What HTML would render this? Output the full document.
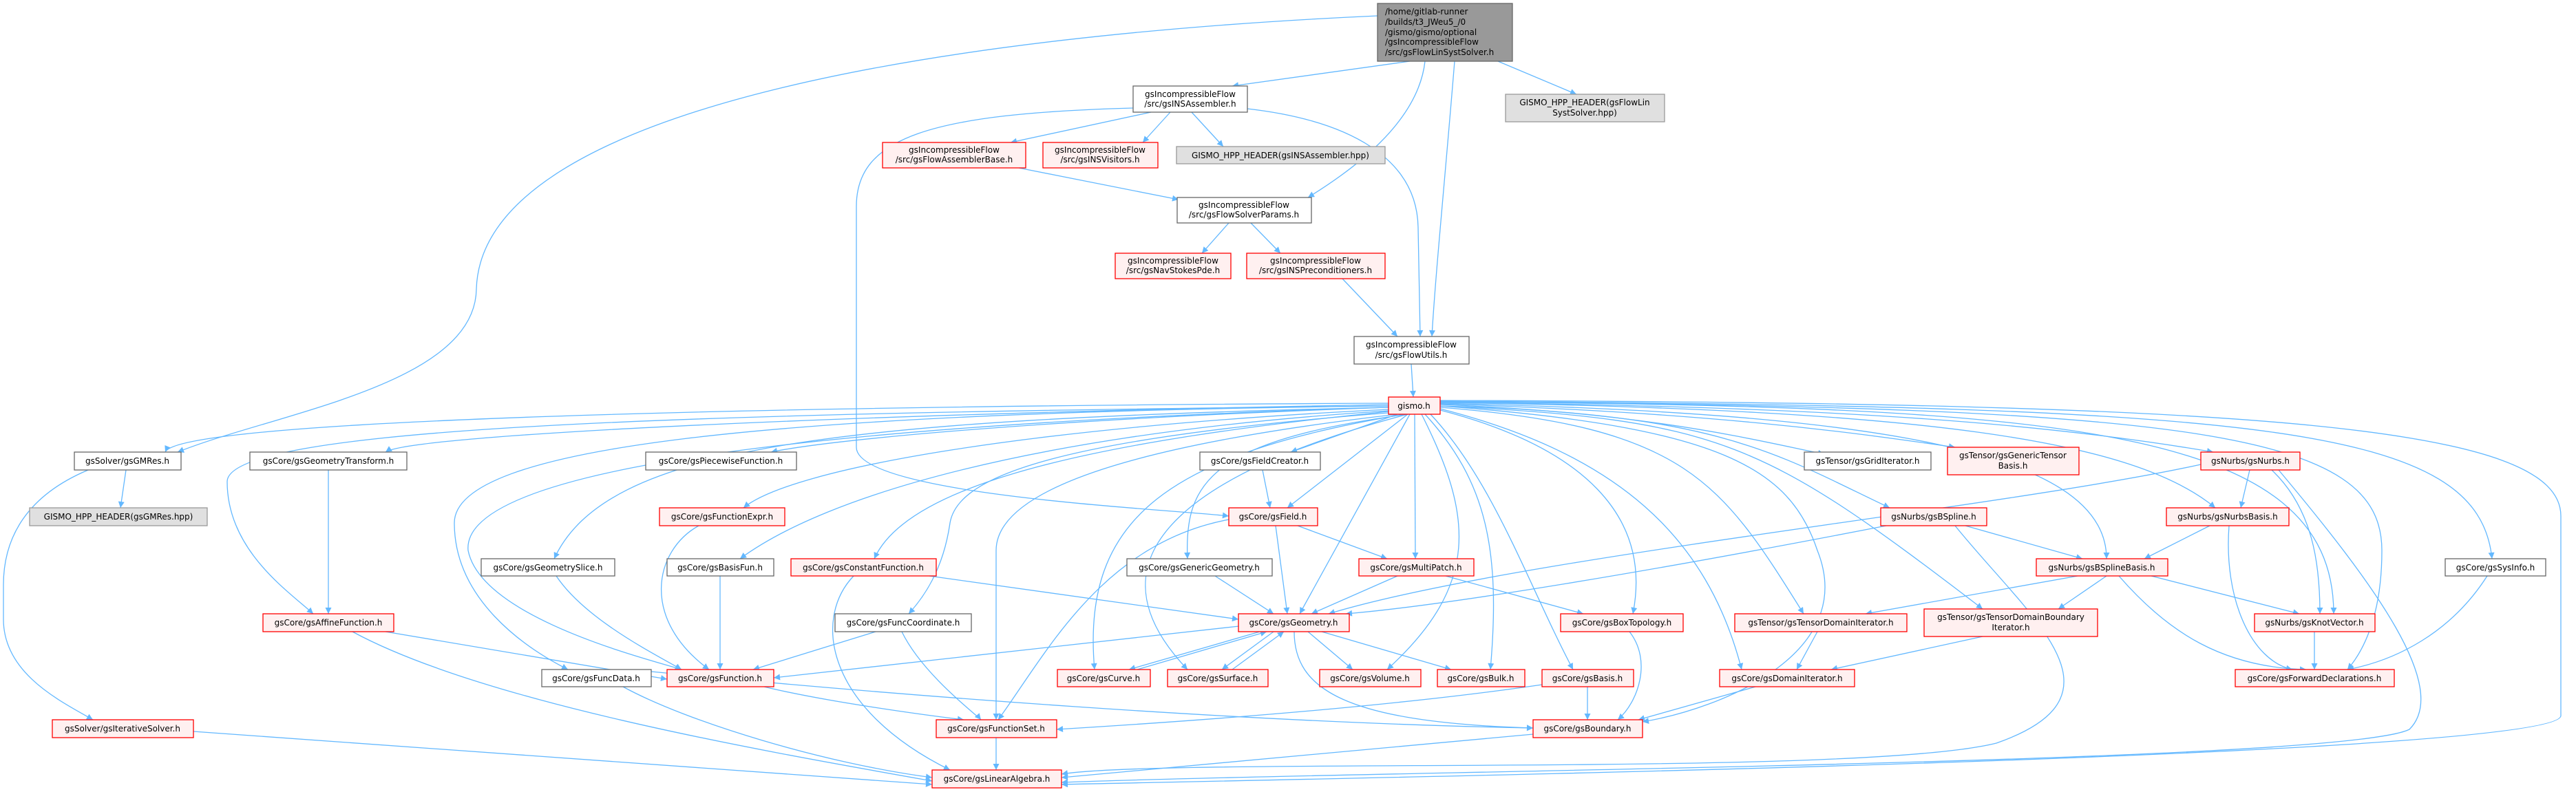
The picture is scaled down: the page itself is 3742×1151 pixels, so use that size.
<!DOCTYPE html>
<html><head><meta charset="utf-8"><style>
html,body{margin:0;padding:0;background:#fff;}
svg{display:block;}
text{font-family:"DejaVu Sans","Liberation Sans",sans-serif;font-size:12px;fill:#000;}
.r{fill:#fff0f0;stroke:#ff0000;stroke-width:1.3}
.w{fill:#fff;stroke:#666;stroke-width:1.3}
.g{fill:#e0e0e0;stroke:#999;stroke-width:1.3}
.t{fill:#999;stroke:#666;stroke-width:1.3}
path.e{fill:none;stroke:#63b8ff;stroke-width:1.3;marker-end:url(#a)}
</style></head><body>
<svg width="3742" height="1151" viewBox="0 0 3742 1151" xmlns="http://www.w3.org/2000/svg">
<defs><marker id="a" viewBox="0 0 10 10" refX="10" refY="5" markerWidth="11" markerHeight="9" markerUnits="userSpaceOnUse" orient="auto"><path d="M0,0 L10,5 L0,10z" fill="#63b8ff"/></marker></defs>
<g>
<path class="e" d="M2001,23 C1400,50 700,150 692,420 C690,560 400,600 258,657"/>
<path class="e" d="M2048,89 L1790,125"/>
<path class="e" d="M2070,89 C2060,180 1960,250 1900,287"/>
<path class="e" d="M2113,89 C2100,250 2085,400 2080,489"/>
<path class="e" d="M2176,89 L2290,137"/>
<path class="e" d="M1672,163 L1468,207"/>
<path class="e" d="M1700,163 L1660,207"/>
<path class="e" d="M1731,163 L1777,213"/>
<path class="e" d="M1646,157 C1350,165 1244,200 1244,300 L1244,650 C1244,720 1700,740 1785,750"/>
<path class="e" d="M1812,158 C1960,175 2058,230 2060,330 L2063,489"/>
<path class="e" d="M1480,244 L1712,290"/>
<path class="e" d="M1785,324 L1746,368"/>
<path class="e" d="M1817,324 L1860,368"/>
<path class="e" d="M1950,405 L2030,489"/>
<path class="e" d="M2050,529 L2053,577"/>

<path class="e" d="M2017,586 C1100,590 260,610 240,657"/>
<path class="e" d="M2017,588 C1300,600 600,630 560,657"/>
<path class="e" d="M2017,592 C1500,610 1200,640 1120,657"/>
<path class="e" d="M2017,590 C1000,600 330,620 330,700 C330,800 420,860 455,892"/>
<path class="e" d="M2017,592 C1200,610 880,650 805,812"/>
<path class="e" d="M2017,590 C1100,600 660,650 660,760 C660,870 760,940 825,973"/>
<path class="e" d="M2017,592 C1100,620 670,690 680,800 C700,900 950,960 990,973"/>
<path class="e" d="M2017,595 C1500,620 1150,680 1080,738"/>
<path class="e" d="M2017,597 C1500,630 1200,720 1075,812"/>
<path class="e" d="M2017,598 C1600,640 1320,700 1270,812"/>
<path class="e" d="M2017,600 C1500,640 1390,700 1380,760 C1370,830 1340,870 1320,892"/>
<path class="e" d="M2030,602 C1700,640 1447,700 1447,800 L1447,1046"/>
<path class="e" d="M2040,602 C1700,660 1570,750 1590,973"/>
<path class="e" d="M2045,602 C1750,680 1560,800 1725,973"/>
<path class="e" d="M2045,602 L1870,738"/>
<path class="e" d="M2030,602 L1875,657"/>
<path class="e" d="M2045,602 C1760,640 1720,700 1725,812"/>
<path class="e" d="M2048,602 L1888,892"/>
<path class="e" d="M2055,602 L2056,812"/>
<path class="e" d="M2065,602 C2140,750 2150,850 2015,973"/>
<path class="e" d="M2070,602 C2160,700 2180,800 2165,973"/>
<path class="e" d="M2078,602 C2170,700 2220,850 2285,973"/>
<path class="e" d="M2092,596 C2300,650 2400,750 2372,892"/>
<path class="e" d="M2092,594 C2350,660 2480,780 2530,973"/>
<path class="e" d="M2092,590 C2500,620 2600,680 2640,800 C2700,950 2500,1030 2386,1049"/>
<path class="e" d="M2092,592 C2450,620 2500,700 2620,892"/>
<path class="e" d="M2092,590 C2500,610 2560,640 2880,885"/>
<path class="e" d="M2092,590 C2500,600 2580,660 2745,738"/>
<path class="e" d="M2092,588 C2400,600 2550,640 2650,660"/>
<path class="e" d="M2092,587 C2500,600 2700,630 2840,650"/>
<path class="e" d="M2092,586 C2700,600 3060,650 3060,812"/>
<path class="e" d="M2092,585 C2700,590 3000,620 3215,657"/>
<path class="e" d="M2092,585 C2800,595 3100,640 3218,738"/>
<path class="e" d="M2092,584 C3000,590 3390,620 3390,892"/>
<path class="e" d="M2092,584 C3200,590 3460,630 3460,800 C3460,900 3430,950 3410,973"/>
<path class="e" d="M2092,583 C3300,590 3600,620 3620,812"/>
<path class="e" d="M2092,582 C3300,585 3720,620 3720,750 L3720,1040 C3720,1100 2000,1130 1542,1140"/>

<path class="e" d="M183,683 L175,738"/>
<path class="e" d="M128,683 C40,720 5,780 5,850 L5,900 C5,980 90,1020 135,1046"/>
<path class="e" d="M477,683 L477,892"/>
<path class="e" d="M1015,764 C950,800 930,900 1030,973"/>
<path class="e" d="M808,837 C850,900 950,950 990,973"/>
<path class="e" d="M1046,837 L1046,973"/>
<path class="e" d="M1350,837 L1799,900"/>
<path class="e" d="M1240,837 C1180,900 1200,1030 1380,1119"/>
<path class="e" d="M560,918 L969,987"/>
<path class="e" d="M512,918 C700,1020 1100,1090 1354,1135"/>
<path class="e" d="M1272,918 L1094,973"/>
<path class="e" d="M1310,918 C1340,980 1420,1040 1425,1046"/>
<path class="e" d="M946,976 C1300,1010 1800,1050 2227,1058"/>
<path class="e" d="M905,998 C1000,1050 1200,1110 1354,1130"/>
<path class="e" d="M1110,998 C1200,1020 1350,1040 1400,1046"/>
<path class="e" d="M281,1063 L1354,1140"/>
<path class="e" d="M1834,683 L1845,738"/>
<path class="e" d="M1853,764 L1870,892"/>
<path class="e" d="M1885,764 L2015,812"/>
<path class="e" d="M1785,755 C1600,790 1520,950 1450,1046"/>
<path class="e" d="M1765,837 L1850,892"/>
<path class="e" d="M2030,837 L1905,892"/>
<path class="e" d="M2100,837 L2300,892"/>
<path class="e" d="M1800,910 L1124,985"/>
<path class="e" d="M1830,918 L1640,973"/>
<path class="e" d="M1850,918 L1775,973"/>
<path class="e" d="M1900,918 L1965,973"/>
<path class="e" d="M1920,918 L2108,973"/>
<path class="e" d="M1880,918 C1880,1000 1950,1050 2227,1058"/>
<path class="e" d="M1652,973 L1840,918"/>
<path class="e" d="M1790,973 L1865,918"/>
<path class="e" d="M2240,995 C2000,1030 1700,1050 1535,1060"/>
<path class="e" d="M2306,998 L2306,1046"/>
<path class="e" d="M2367,918 C2400,960 2380,1020 2350,1046"/>
<path class="e" d="M2550,998 L2380,1046"/>
<path class="e" d="M2227,1067 L1542,1130"/>
<path class="e" d="M1447,1072 L1447,1119"/>
<path class="e" d="M3197,675 C2900,740 2200,810 1930,892"/>
<path class="e" d="M3268,683 L3255,738"/>
<path class="e" d="M3300,683 C3360,740 3370,820 3370,892"/>
<path class="e" d="M3310,683 C3450,850 3560,1000 3500,1060 C3400,1110 2000,1120 1542,1137"/>
<path class="e" d="M2740,764 C2400,830 2100,880 1955,892"/>
<path class="e" d="M2855,764 L3025,812"/>
<path class="e" d="M2840,764 C2950,900 3100,1010 2900,1080 C2700,1130 1700,1100 1542,1125"/>
<path class="e" d="M3210,764 L3115,812"/>
<path class="e" d="M3238,764 C3230,870 3270,960 3330,973"/>
<path class="e" d="M3018,837 L2710,892"/>
<path class="e" d="M3060,837 L2990,885"/>
<path class="e" d="M3125,837 L3340,892"/>
<path class="e" d="M3078,837 C3150,920 3230,970 3350,973"/>
<path class="e" d="M2640,918 L2610,973"/>
<path class="e" d="M2880,925 L2660,973"/>
<path class="e" d="M3362,918 L3362,973"/>
<path class="e" d="M3613,837 C3560,920 3480,960 3410,973"/>
</g>

<g text-anchor="middle">
<rect class="t" x="2001" y="5" width="196" height="84"/>
<text x="2012" y="21" text-anchor="start">/home/gitlab-runner</text>
<text x="2012" y="36" text-anchor="start">/builds/t3_JWeu5_/0</text>
<text x="2012" y="51" text-anchor="start">/gismo/gismo/optional</text>
<text x="2012" y="65" text-anchor="start">/gsIncompressibleFlow</text>
<text x="2012" y="80" text-anchor="start">/src/gsFlowLinSystSolver.h</text>

<rect class="g" x="2187" y="137" width="231" height="40"/>
<text x="2302" y="153">GISMO_HPP_HEADER(gsFlowLin</text><text x="2302" y="168">SystSolver.hpp)</text>

<rect class="w" x="1646" y="125" width="166" height="38"/>
<text x="1729" y="141">gsIncompressibleFlow</text><text x="1729" y="155">/src/gsINSAssembler.h</text>

<rect class="r" x="1282" y="207" width="208" height="37"/>
<text x="1386" y="222">gsIncompressibleFlow</text><text x="1386" y="236">/src/gsFlowAssemblerBase.h</text>
<rect class="r" x="1515" y="207" width="167" height="37"/>
<text x="1598" y="222">gsIncompressibleFlow</text><text x="1598" y="236">/src/gsINSVisitors.h</text>
<rect class="g" x="1709" y="213" width="303" height="25"/>
<text x="1860" y="230">GISMO_HPP_HEADER(gsINSAssembler.hpp)</text>

<rect class="w" x="1710" y="287" width="195" height="37"/>
<text x="1807" y="302">gsIncompressibleFlow</text><text x="1807" y="316">/src/gsFlowSolverParams.h</text>

<rect class="r" x="1620" y="368" width="168" height="37"/>
<text x="1704" y="383">gsIncompressibleFlow</text><text x="1704" y="397">/src/gsNavStokesPde.h</text>
<rect class="r" x="1811" y="368" width="201" height="37"/>
<text x="1911" y="383">gsIncompressibleFlow</text><text x="1911" y="397">/src/gsINSPreconditioners.h</text>

<rect class="w" x="1967" y="489" width="167" height="40"/>
<text x="2050" y="505">gsIncompressibleFlow</text><text x="2050" y="520">/src/gsFlowUtils.h</text>

<rect class="r" x="2017" y="577" width="75" height="25"/>
<text x="2054" y="594">gismo.h</text>

<rect class="w" x="108" y="657" width="155" height="26"/><text x="185" y="674">gsSolver/gsGMRes.h</text>
<rect class="w" x="363" y="657" width="228" height="26"/><text x="477" y="674">gsCore/gsGeometryTransform.h</text>
<rect class="w" x="938" y="657" width="219" height="26"/><text x="1047" y="674">gsCore/gsPiecewiseFunction.h</text>
<rect class="w" x="1743" y="657" width="175" height="26"/><text x="1830" y="674">gsCore/gsFieldCreator.h</text>
<rect class="w" x="2621" y="657" width="184" height="26"/><text x="2713" y="674">gsTensor/gsGridIterator.h</text>
<rect class="r" x="2829" y="650" width="191" height="40"/><text x="2924" y="666">gsTensor/gsGenericTensor</text><text x="2924" y="681">Basis.h</text>
<rect class="r" x="3197" y="657" width="144" height="26"/><text x="3269" y="674">gsNurbs/gsNurbs.h</text>

<rect class="g" x="43" y="738" width="258" height="26"/><text x="172" y="755">GISMO_HPP_HEADER(gsGMRes.hpp)</text>
<rect class="r" x="958" y="738" width="182" height="26"/><text x="1049" y="755">gsCore/gsFunctionExpr.h</text>
<rect class="r" x="1785" y="738" width="129" height="26"/><text x="1849" y="755">gsCore/gsField.h</text>
<rect class="r" x="2732" y="738" width="154" height="26"/><text x="2809" y="755">gsNurbs/gsBSpline.h</text>
<rect class="r" x="3147" y="738" width="178" height="26"/><text x="3236" y="755">gsNurbs/gsNurbsBasis.h</text>

<rect class="w" x="699" y="812" width="194" height="25"/><text x="796" y="829">gsCore/gsGeometrySlice.h</text>
<rect class="w" x="969" y="812" width="155" height="25"/><text x="1046" y="829">gsCore/gsBasisFun.h</text>
<rect class="r" x="1149" y="812" width="211" height="25"/><text x="1254" y="829">gsCore/gsConstantFunction.h</text>
<rect class="w" x="1637" y="812" width="211" height="25"/><text x="1742" y="829">gsCore/gsGenericGeometry.h</text>
<rect class="r" x="1974" y="812" width="167" height="25"/><text x="2057" y="829">gsCore/gsMultiPatch.h</text>
<rect class="r" x="2958" y="812" width="191" height="25"/><text x="3053" y="829">gsNurbs/gsBSplineBasis.h</text>
<rect class="w" x="3552" y="812" width="146" height="25"/><text x="3625" y="829">gsCore/gsSysInfo.h</text>

<rect class="r" x="382" y="892" width="190" height="26"/><text x="477" y="909">gsCore/gsAffineFunction.h</text>
<rect class="w" x="1213" y="892" width="198" height="26"/><text x="1312" y="909">gsCore/gsFuncCoordinate.h</text>
<rect class="r" x="1799" y="892" width="161" height="26"/><text x="1879" y="909">gsCore/gsGeometry.h</text>
<rect class="r" x="2267" y="892" width="178" height="26"/><text x="2356" y="909">gsCore/gsBoxTopology.h</text>
<rect class="r" x="2520" y="892" width="250" height="26"/><text x="2645" y="909">gsTensor/gsTensorDomainIterator.h</text>
<rect class="r" x="2795" y="885" width="252" height="40"/><text x="2921" y="901">gsTensor/gsTensorDomainBoundary</text><text x="2921" y="916">Iterator.h</text>
<rect class="r" x="3275" y="892" width="175" height="26"/><text x="3362" y="909">gsNurbs/gsKnotVector.h</text>

<rect class="w" x="787" y="973" width="159" height="25"/><text x="866" y="990">gsCore/gsFuncData.h</text>
<rect class="r" x="969" y="973" width="155" height="25"/><text x="1046" y="990">gsCore/gsFunction.h</text>
<rect class="r" x="1536" y="973" width="135" height="25"/><text x="1603" y="990">gsCore/gsCurve.h</text>
<rect class="r" x="1696" y="973" width="146" height="25"/><text x="1769" y="990">gsCore/gsSurface.h</text>
<rect class="r" x="1917" y="973" width="147" height="25"/><text x="1990" y="990">gsCore/gsVolume.h</text>
<rect class="r" x="2088" y="973" width="127" height="25"/><text x="2151" y="990">gsCore/gsBulk.h</text>
<rect class="r" x="2240" y="973" width="133" height="25"/><text x="2306" y="990">gsCore/gsBasis.h</text>
<rect class="r" x="2498" y="973" width="196" height="25"/><text x="2596" y="990">gsCore/gsDomainIterator.h</text>
<rect class="r" x="3247" y="973" width="231" height="25"/><text x="3362" y="990">gsCore/gsForwardDeclarations.h</text>

<rect class="r" x="76" y="1046" width="205" height="26"/><text x="178" y="1063">gsSolver/gsIterativeSolver.h</text>
<rect class="r" x="1360" y="1046" width="175" height="26"/><text x="1447" y="1063">gsCore/gsFunctionSet.h</text>
<rect class="r" x="2227" y="1046" width="159" height="26"/><text x="2306" y="1063">gsCore/gsBoundary.h</text>

<rect class="r" x="1354" y="1119" width="188" height="26"/><text x="1448" y="1136">gsCore/gsLinearAlgebra.h</text>
</g>
</svg>
</body></html>
